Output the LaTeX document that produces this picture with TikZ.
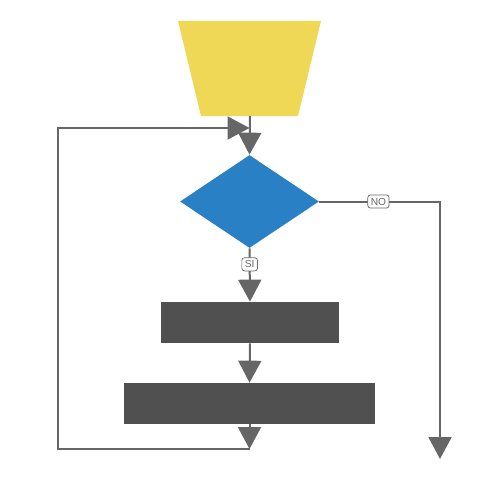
\documentclass[tikz,border=0pt]{standalone}
\usepackage{fontspec}
\setsansfont{Liberation Sans}
\usetikzlibrary{shapes.geometric,arrows.meta}
\definecolor{ylw}{HTML}{EFD855}
\definecolor{blu}{HTML}{2A80C4}
\definecolor{drk}{HTML}{505050}
\definecolor{lin}{HTML}{666666}
\tikzset{
  x=0.02cm, y=-0.02cm,
  conn/.style={draw=lin, line width=0.04cm, -{Triangle[width=0.46cm,length=0.44cm]}},
  procbox/.style={rectangle, fill=drk, draw=none, inner sep=0pt, minimum height=0.82cm},
  decbox/.style={diamond, fill=blu, draw=none, inner sep=0pt, minimum width=2.78cm, minimum height=1.86cm},
  lbl/.style={fill=white, draw=lin, line width=0.4pt, rounded corners=1.5pt, text=lin, font=\sffamily\fontsize{5.8}{6}\selectfont, inner sep=1.7pt, minimum height=0.24cm}
}
\begin{document}
\begin{tikzpicture}
\useasboundingbox (0,0) rectangle (500,500);
\fill[ylw] (178,21) -- (321,21) -- (298,116) -- (201,116) -- cycle;
\coordinate (start) at (250,116);
\node[decbox] (dec) at (249.5,201.5) {};
\node[procbox, minimum width=3.56cm] (r1) at (250,322.5) {};
\node[procbox, minimum width=5.02cm] (r2) at (249.5,403.5) {};
\coordinate (lb) at (249.5,449);
\coordinate (lt) at (249.5,128);
\coordinate (ne) at (440,459);
\draw[conn] (start) -- (dec.north);
\draw[conn] (dec.south) -- node[lbl, pos=0.3] {SI} (r1.north);
\draw[conn] (r1.south) -- (r2.north);
\draw[conn] (r2.south) -- (lb);
\draw[conn] (lb) -- ++(-191.5,0) |- (lt);
\draw[conn] (dec.east) -| node[lbl, pos=0.245] {NO} (ne);
\end{tikzpicture}
\end{document}
